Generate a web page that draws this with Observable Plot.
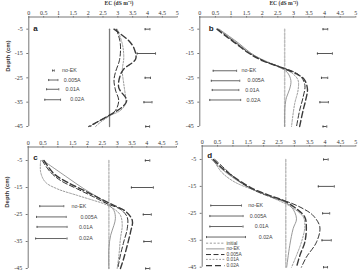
<!DOCTYPE html>
<html>
<head>
<meta charset="utf-8">
<script src="https://cdn.jsdelivr.net/npm/d3@7"></script>
<script src="https://cdn.jsdelivr.net/npm/@observablehq/plot@0.6"></script>
<style>
  body { margin: 0; background: #fff; }
  #fig { position: relative; width: 362px; height: 275px; overflow: hidden; background: #fff; }
  #fig > svg { position: absolute; overflow: visible; }
</style>
</head>
<body>
<div id="fig"></div>
<script>
// Axis ticks
const ecTicks = [0, 0.5, 1, 1.5, 2, 2.5, 3, 3.5, 4, 4.5, 5];
const depthTicks = [-5, -15, -25, -35, -45];
const seriesNames = ["initial", "no-EK", "0.005A", "0.01A", "0.02A"];
const initialEC = 2.72;
const initialDepth = [-5, -45];

// Panel a profiles (depth in cm, EC in dS/m)
const aNoEKDepth = [-5, -45];
const aNoEKEC = [2.72, 2.72];
const a005Depth = [-5, -9.8, -13.9, -18, -22.7, -26, -30, -34.3, -38.4, -40.5, -43.2, -45];
const a005EC = [2.95, 3.07, 3.09, 3.05, 2.92, 2.87, 2.92, 3.03, 2.92, 2.7, 2.3, 2.08];
const a01Depth = [-5, -11, -16.6, -22, -27.5, -33, -35.7, -38.4, -40.5, -43.2, -45];
const a01EC = [2.98, 3.15, 3.2, 3.15, 3.2, 3.26, 3.26, 3.09, 2.75, 2.42, 2.25];
const a02Depth = [-5, -9.8, -13, -17.3, -21.4, -24, -29, -34.3, -37, -39.8, -43.9, -45];
const a02EC = [2.87, 3.37, 3.55, 3.6, 3.2, 3.08, 3.03, 3.3, 3.15, 2.8, 2.19, 2.02];

// Panel b profiles
const bNoEKDepth = [-5, -8, -11, -14.7, -18, -20.7, -22.7, -26.1, -29.6, -33, -37, -45];
const bNoEKEC = [0.62, 0.95, 1.27, 1.62, 2.05, 2.55, 2.8, 2.92, 2.88, 2.78, 2.73, 2.72];
const b005Depth = [-5, -8, -11, -14.7, -18, -20.7, -22.7, -24.8, -28.2, -33, -38.4, -45];
const b005EC = [0.57, 0.88, 1.2, 1.57, 2.05, 2.62, 3.04, 3.26, 3.37, 3.31, 3.2, 3.1];
const b01Depth = [-5, -8, -11, -14.7, -18, -20.7, -23.4, -26, -30, -35.7, -45];
const b01EC = [0.6, 0.92, 1.22, 1.6, 2.1, 2.6, 2.99, 3.15, 3.15, 3.04, 2.94];
const b02Depth = [-5, -8, -11, -14.7, -18, -20.7, -23.4, -25.5, -29.6, -34.3, -38.4, -45];
const b02EC = [0.55, 0.85, 1.17, 1.55, 2.02, 2.6, 3.1, 3.34, 3.45, 3.39, 3.31, 3.2];

// Panel c profiles
const cNoEKDepth = [-5, -11.2, -15.5, -18.5, -21, -23.5, -26.5, -29, -32.7, -37.6, -45];
const cNoEKEC = [0.5, 1.31, 1.88, 2.33, 2.66, 2.89, 2.94, 2.89, 2.78, 2.72, 2.72];
const c005Depth = [-5, -9.3, -12.4, -15.5, -18.5, -21, -23.1, -26, -30.2, -35.2, -40, -45];
const c005EC = [0.47, 0.75, 1.09, 1.65, 2.21, 2.66, 3.11, 3.34, 3.34, 3.22, 3.11, 3.02];
const c01Depth = [-5, -9.3, -13, -15.5, -17.9, -19.8, -21, -22.9, -25.3, -29, -33.9, -40, -45];
const c01EC = [0.42, 0.42, 0.58, 0.98, 1.65, 2.21, 2.55, 2.89, 3.11, 3.17, 3.11, 3.06, 3.0];
const c02Depth = [-5, -9.9, -13, -16.1, -19.2, -21.6, -23.8, -27.2, -31.5, -36.4, -41.3, -45];
const c02EC = [0.53, 0.87, 1.31, 1.88, 2.44, 2.89, 3.28, 3.51, 3.45, 3.34, 3.22, 3.11];

// Panel d profiles
const dNoEKDepth = [-5, -8.5, -12.2, -15.9, -18.4, -20.2, -22.7, -27, -30.7, -36.9, -45];
const dNoEKEC = [0.3, 0.63, 1.06, 1.6, 2.15, 2.58, 2.91, 3.07, 2.96, 2.85, 2.75];
const d005Depth = [-5, -8.5, -12.8, -16.5, -19, -20.8, -23.3, -25.8, -30.1, -35.7, -41.3, -45];
const d005EC = [0.41, 0.74, 1.17, 1.71, 2.26, 2.8, 3.29, 3.61, 3.83, 3.72, 3.39, 3.23];
const d01Depth = [-5, -9.7, -13.4, -16.5, -19.6, -22.7, -26.4, -30.1, -35.7, -40.6, -45];
const d01EC = [0.36, 0.63, 1.06, 1.71, 2.36, 2.91, 3.29, 3.34, 3.23, 3.07, 2.91];
const d02Depth = [-5, -8.5, -12.2, -15.9, -18.4, -20.2, -23.3, -26.4, -30.1, -35.7, -40.6, -45];
const d02EC = [0.36, 0.68, 1.12, 1.66, 2.2, 2.64, 3.07, 3.34, 3.39, 3.34, 3.18, 3.07];

// Error bars at each sampling depth (low, high EC)
const sideDepth = [-5, -15, -25, -35, -45];
const aSideLo = [3.92, 3.65, 3.92, 3.88, 3.94];
const aSideHi = [4.08, 4.27, 4.1, 4.15, 4.07];
const bSideLo = [3.95, 3.77, 3.9, 3.85, 3.95];
const bSideHi = [4.1, 4.25, 4.1, 4.12, 4.07];
const cSideLo = [3.95, 3.48, 3.88, 3.9, 3.96];
const cSideHi = [4.1, 4.22, 4.15, 4.15, 4.1];
const dSideLo = [3.95, 3.78, 3.92, 3.9, 3.95];
const dSideHi = [4.1, 4.3, 4.15, 4.2, 4.08];

// Treatment bars (no-EK, 0.005A, 0.01A, 0.02A)
const barNames = ["no-EK", "0.005A", "0.01A", "0.02A"];
const aBarDepth = [-22, -25.9, -29.7, -34];
const aBarLo = [0.8, 0.67, 0.6, 0.54];
const aBarHi = [0.86, 0.98, 1.01, 1.07];
const aBarLabelX = [1.12, 1.18, 1.24, 1.4];
const bBarDepth = [-22.1, -26.2, -30, -34.1];
const bBarLo = [0.43, 0.37, 0.4, 0.32];
const bBarHi = [1.18, 1.28, 1.25, 1.31];
const bBarLabelX = [1.34, 1.53, 1.46, 1.5];
const cBarDepth = [-21.9, -25.9, -29.6, -33.9];
const cBarLo = [0.39, 0.28, 0.3, 0.25];
const cBarHi = [1.2, 1.28, 1.31, 1.31];
const cBarLabelX = [1.46, 1.76, 1.71, 1.71];
const dBarDepth = [-22.1, -26, -29.9, -33.8];
const dBarLo = [0.28, 0.25, 0.25, 0.14];
const dBarHi = [1.28, 1.33, 1.33, 1.41];
const dBarLabelX = [1.5, 1.55, 1.71, 1.84];

// Key rows in panel d
const keyDepth = [-36.1, -38.2, -40.3, -42.1, -44.4];
const keyX1 = 0.14, keyX2 = 0.74, keyLabelX = 0.79;

// Line styles per series
const styles = {
  "initial": {stroke: "#bdbdbd", strokeWidth: 1.5, strokeDasharray: "2.2,1.6"},
  "no-EK":   {stroke: "#8c8c8c", strokeWidth: 0.9},
  "0.005A":  {stroke: "#1a1a1a", strokeWidth: 0.9, strokeDasharray: "5,2.5"},
  "0.01A":   {stroke: "#808080", strokeWidth: 0.8, strokeDasharray: "1.8,1.5"},
  "0.02A":   {stroke: "#3a3a3a", strokeWidth: 1.4, strokeDasharray: "6,3"}
};

const zip = (depth, ec) => depth.map((d, i) => ({depth: d, ec: ec[i]}));

// vertical cap for error bars, sized in pixels
const capSymbol = {
  draw(context, size) {
    const h = Math.sqrt(size) / 2;
    context.moveTo(0, -h);
    context.lineTo(0, h);
  }
};

function panel(cfg) {
  const marks = [];
  // axes lines
  marks.push(Plot.ruleY([0], {stroke: "#777", strokeWidth: 1}));
  marks.push(Plot.ruleX([0], {stroke: "#777", strokeWidth: 1}));
  marks.push(Plot.axisX({anchor: "top", ticks: ecTicks, tickSize: 1.5, tickPadding: 1,
    tickFormat: d => String(d), label: null, stroke: "#777", fontSize: 6}));
  marks.push(Plot.axisY({anchor: "left", ticks: depthTicks, tickSize: 2, tickPadding: 4,
    tickFormat: d => String(d), label: null, stroke: "#777", fontSize: 6}));

  // initial profile
  if (cfg.initial) {
    marks.push(Plot.line(zip(initialDepth, initialDepth.map(() => initialEC)),
      {x: "ec", y: "depth", ...styles["initial"]}));
  }
  // treatment profiles
  for (const c of cfg.curves) {
    marks.push(Plot.line(zip(c.depth, c.ec),
      {x: "ec", y: "depth", curve: "catmull-rom", ...(c.style || styles[c.name])}));
  }

  // error bars on the right
  const side = sideDepth.map((d, i) => ({depth: d, lo: cfg.sideLo[i], hi: cfg.sideHi[i]}));
  marks.push(Plot.ruleY(side, {y: "depth", x1: "lo", x2: "hi", stroke: "#444", strokeWidth: 0.9}));
  marks.push(Plot.dot(side, {x: "lo", y: "depth", symbol: capSymbol, r: 1.3, stroke: "#444", strokeWidth: 0.9, fill: "none"}));
  marks.push(Plot.dot(side, {x: "hi", y: "depth", symbol: capSymbol, r: 1.3, stroke: "#444", strokeWidth: 0.9, fill: "none"}));

  // treatment bars
  const bars = barNames.map((n, i) => ({name: n, depth: cfg.barDepth[i], lo: cfg.barLo[i], hi: cfg.barHi[i], lx: cfg.barLabelX[i]}));
  marks.push(Plot.ruleY(bars, {y: "depth", x1: "lo", x2: "hi", stroke: "#555", strokeWidth: 0.9}));
  marks.push(Plot.dot(bars, {x: "lo", y: "depth", symbol: capSymbol, r: 1.2, stroke: "#555", strokeWidth: 0.9, fill: "none"}));
  marks.push(Plot.dot(bars, {x: "hi", y: "depth", symbol: capSymbol, r: 1.2, stroke: "#555", strokeWidth: 0.9, fill: "none"}));
  marks.push(Plot.text(bars, {x: "lx", y: "depth", text: "name", textAnchor: "start",
    fontSize: 5.3, fill: "#444", fontFamily: "Liberation Sans"}));

  // series key
  if (cfg.key) {
    seriesNames.forEach((n, i) => {
      marks.push(Plot.ruleY([keyDepth[i]], {x1: keyX1, x2: keyX2, ...styles[n]}));
    });
    marks.push(Plot.text(seriesNames.map((n, i) => ({n, d: keyDepth[i]})),
      {x: keyLabelX, y: "d", text: "n", textAnchor: "start", fontSize: 4.8, fill: "#444",
       fontFamily: "Liberation Sans"}));
  }

  // panel letter
  marks.push(Plot.text([cfg.letter], {frameAnchor: "top-left", dx: cfg.letterDx, dy: cfg.letterDy,
    fontWeight: "bold", fontSize: 8, fill: "#222", fontFamily: "Liberation Sans"}));
  if (cfg.depthLabel) {
    marks.push(Plot.text(["Depth (cm)"], {frameAnchor: "left", dx: -21, rotate: -90,
      fontWeight: "bold", fontSize: 6, fill: "#333", fontFamily: "Liberation Sans"}));
  }
  if (cfg.ecLabel) {
    marks.push(Plot.text(["EC (dS m\u207B\u00B9)"], {frameAnchor: "top", dx: cfg.ecDx, dy: -cfg.m[0] + 0.2,
      lineAnchor: "top", fontWeight: "bold", fontSize: 5.6, fill: "#333", fontFamily: "Liberation Serif"}));
  }

  const svg = Plot.plot({
    width: cfg.width, height: cfg.height,
    marginLeft: cfg.m[3], marginRight: cfg.m[1], marginTop: cfg.m[0], marginBottom: cfg.m[2],
    x: {domain: [0, 5]},
    y: {domain: [-45, 0]},
    style: {fontFamily: "Liberation Serif", fontSize: "6px", color: "#333", background: "transparent", overflow: "visible"},
    marks
  });
  svg.style.left = cfg.left + "px";
  svg.style.top = cfg.top + "px";
  return svg;
}

const fig = document.getElementById("fig");

fig.appendChild(panel({
  letter: "a", left: 0, top: 0, width: 181, height: 135, m: [16.5, 4.3, 9, 28.3],
  letterDx: 4.5, letterDy: 8.5, depthLabel: true, ecLabel: true, ecDx: 16,
  initial: false,
  curves: [
    {name: "no-EK", depth: aNoEKDepth, ec: aNoEKEC, style: {stroke: "#7a7a7a", strokeWidth: 1.3}},
    {name: "0.005A", depth: a005Depth, ec: a005EC},
    {name: "0.01A", depth: a01Depth, ec: a01EC},
    {name: "0.02A", depth: a02Depth, ec: a02EC}
  ],
  sideLo: aSideLo, sideHi: aSideHi,
  barDepth: aBarDepth, barLo: aBarLo, barHi: aBarHi, barLabelX: aBarLabelX
}));

fig.appendChild(panel({
  letter: "b", left: 181, top: 0, width: 181, height: 135, m: [16.5, 6.7, 9, 18.3],
  letterDx: 9, letterDy: 8.5, depthLabel: false, ecLabel: true, ecDx: 6,
  initial: true,
  curves: [
    {name: "no-EK", depth: bNoEKDepth, ec: bNoEKEC},
    {name: "0.005A", depth: b005Depth, ec: b005EC},
    {name: "0.01A", depth: b01Depth, ec: b01EC},
    {name: "0.02A", depth: b02Depth, ec: b02EC}
  ],
  sideLo: bSideLo, sideHi: bSideHi,
  barDepth: bBarDepth, barLo: bBarLo, barHi: bBarHi, barLabelX: bBarLabelX
}));

fig.appendChild(panel({
  letter: "c", left: 0, top: 135, width: 181, height: 140, m: [11.5, 5, 7, 27.7],
  letterDx: 5, letterDy: 7, depthLabel: true, ecLabel: false,
  initial: true,
  curves: [
    {name: "no-EK", depth: cNoEKDepth, ec: cNoEKEC},
    {name: "0.005A", depth: c005Depth, ec: c005EC},
    {name: "0.01A", depth: c01Depth, ec: c01EC},
    {name: "0.02A", depth: c02Depth, ec: c02EC}
  ],
  sideLo: cSideLo, sideHi: cSideHi,
  barDepth: cBarDepth, barLo: cBarLo, barHi: cBarHi, barLabelX: cBarLabelX
}));

fig.appendChild(panel({
  letter: "d", left: 181, top: 135, width: 181, height: 140, m: [10.5, 6.7, 8.3, 20.7],
  letterDx: 5, letterDy: 6.5, depthLabel: false, ecLabel: false,
  initial: true, key: true,
  curves: [
    {name: "no-EK", depth: dNoEKDepth, ec: dNoEKEC},
    {name: "0.005A", depth: d005Depth, ec: d005EC},
    {name: "0.01A", depth: d01Depth, ec: d01EC},
    {name: "0.02A", depth: d02Depth, ec: d02EC}
  ],
  sideLo: dSideLo, sideHi: dSideHi,
  barDepth: dBarDepth, barLo: dBarLo, barHi: dBarHi, barLabelX: dBarLabelX
}));
</script>
</body>
</html>
